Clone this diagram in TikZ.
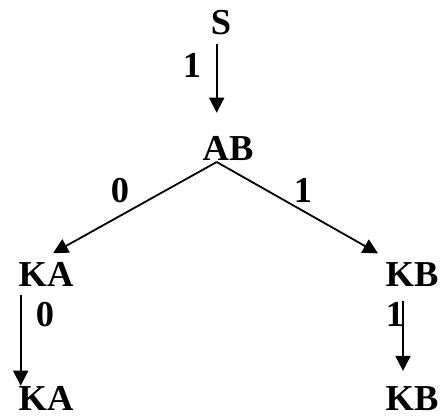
\documentclass[tikz,border=0pt]{standalone}
\usepackage{fontspec}
\setmainfont{Liberation Serif}
\usetikzlibrary{arrows.meta}
\begin{document}
\begin{tikzpicture}[x=1pt,y=1pt,
  lbl/.style={inner sep=0pt,anchor=base,font=\fontsize{36.5}{40}\selectfont\bfseries},
  arr/.style={line width=1.8pt,-{Triangle[width=15pt,length=15pt]}}]
\useasboundingbox (0,0) rectangle (441,416);
% nodes
\node[lbl] (S) at (221,381) {S};
\node[lbl] (AB) at (228,256) {AB};
\node[lbl] (KA1) at (46,130) {KA};
\node[lbl] (KB1) at (412,130) {KB};
\node[lbl] (KA2) at (46,6) {KA};
\node[lbl] (KB2) at (412,6) {KB};
% labels
\node[lbl] (l1) at (192,339) {1};
\node[lbl] (l2) at (120,214) {0};
\node[lbl] (l3) at (303,214) {1};
\node[lbl] (l4) at (45,90) {0};
\node[lbl] (l5) at (395,90) {1};
% connectors
\coordinate (apex) at ([xshift=-11.3pt,yshift=-1.7pt]AB.south);
\draw[arr] ([xshift=-4.3pt,yshift=-8pt]S.south) -- ([xshift=-11.3pt,yshift=23pt]AB.north);
\draw[arr] (apex) -- ([xshift=7pt,yshift=8.5pt]KA1.north);
\draw[arr] (apex) -- ([xshift=-34pt,yshift=8.5pt]KB1.north);
\draw[arr] ([xshift=-25.3pt,yshift=-9pt]KA1.south) -- ([xshift=-25.3pt,yshift=0pt]KA2.north);
\draw[arr] ([xshift=-9pt,yshift=-15pt]KB1.south) -- ([xshift=-9pt,yshift=15pt]KB2.north);
\end{tikzpicture}
\end{document}
